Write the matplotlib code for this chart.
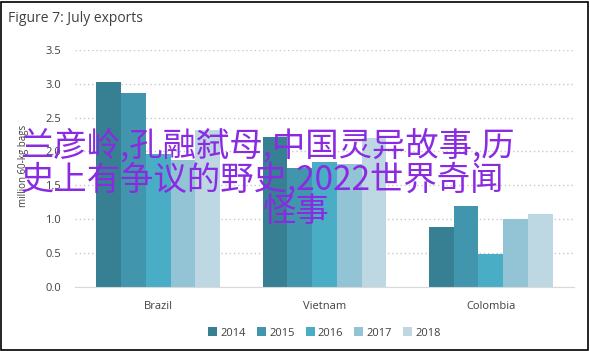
import matplotlib
matplotlib.use("Agg")
import matplotlib.pyplot as plt
from matplotlib.patches import Rectangle
import numpy as np

categories = ["Brazil", "Vietnam", "Colombia"]
years = ["2014", "2015", "2016", "2017", "2018"]
values = {
    "2014": [3.02, 2.22, 0.89],
    "2015": [2.87, 1.75, 1.20],
    "2016": [1.96, 1.85, 0.49],
    "2017": [1.87, 1.82, 1.00],
    "2018": [2.31, 2.20, 1.07],
}
colors = ["#377f93", "#4196ad", "#4aadc6", "#93c4d5", "#bdd8e3"]
yticks = [0.0, 0.5, 1.0, 1.5, 2.0, 2.5, 3.0, 3.5]
title = "Figure 7: July exports"
ylabel = "million 60-kg bags"
overlay_lines = ["兰彦岭,孔融弑母,中国灵异故事,历", "史上有争议的野史,2022世界奇闻", "怪事"]

plt.rcParams['font.family'] = ['Open Sans', 'DejaVu Sans']
fig = plt.figure(figsize=(5.9, 3.51), dpi=100)
ax = fig.add_axes([75/590, 1-286.7/351, (574-75)/590, (286.7-50)/351])

x = np.arange(len(categories))
bw = 0.149
for i, (yr, c) in enumerate(zip(years, colors)):
    ax.bar(x + (i-2)*bw, values[yr], width=bw, color=c, label=yr, zorder=2)

ax.set_xlim(-0.5, 2.5)
ax.set_ylim(0, 3.5)
ax.set_yticks(yticks)
ax.set_yticklabels([f"{v:.1f}" for v in yticks])
ax.set_xticks(x)
ax.set_xticklabels(categories)
ax.tick_params(axis='both', length=0, labelsize=8, colors='#404040')
ax.tick_params(axis='x', pad=10)
ax.tick_params(axis='y', pad=10)
ax.yaxis.grid(True, linestyle=(0, (1, 2)), color='#c8c8c8', linewidth=1, zorder=0)
for s in ['top', 'right', 'left']:
    ax.spines[s].set_visible(False)
ax.spines['bottom'].set_color('#d9d9d9')
ax.set_ylabel(ylabel, fontsize=7, color='#404040')
ax.yaxis.set_label_coords(-0.093, 0.51)

leg = ax.legend(loc='upper center', bbox_to_anchor=(0.5, -0.13), ncol=5, frameon=False,
                fontsize=8, handlelength=0.8, handleheight=0.8, handletextpad=0.3,
                columnspacing=1.0, labelcolor='#404040')

fig.text(8/590, 1-18/351, title, fontsize=10, color='#404040', va='center', ha='left')

purple = '#8a2be2'
cjk = ['Noto Sans CJK SC', 'DejaVu Sans']
fig.text(267/590, 1-146/351, overlay_lines[0], fontsize=24, color=purple, ha='center', va='center', family=cjk)
fig.text(262/590, 1-180/351, overlay_lines[1], fontsize=24, color=purple, ha='center', va='center', family=cjk)
fig.text(296/590, 1-211/351, overlay_lines[2], fontsize=24, color=purple, ha='center', va='center', family=cjk)

fig.patches.append(Rectangle((0.5/590, 1.5/351), 587/590, 348/351, transform=fig.transFigure,
                             fill=False, edgecolor='black', linewidth=1.2))

fig.savefig("out.png", dpi=100)
